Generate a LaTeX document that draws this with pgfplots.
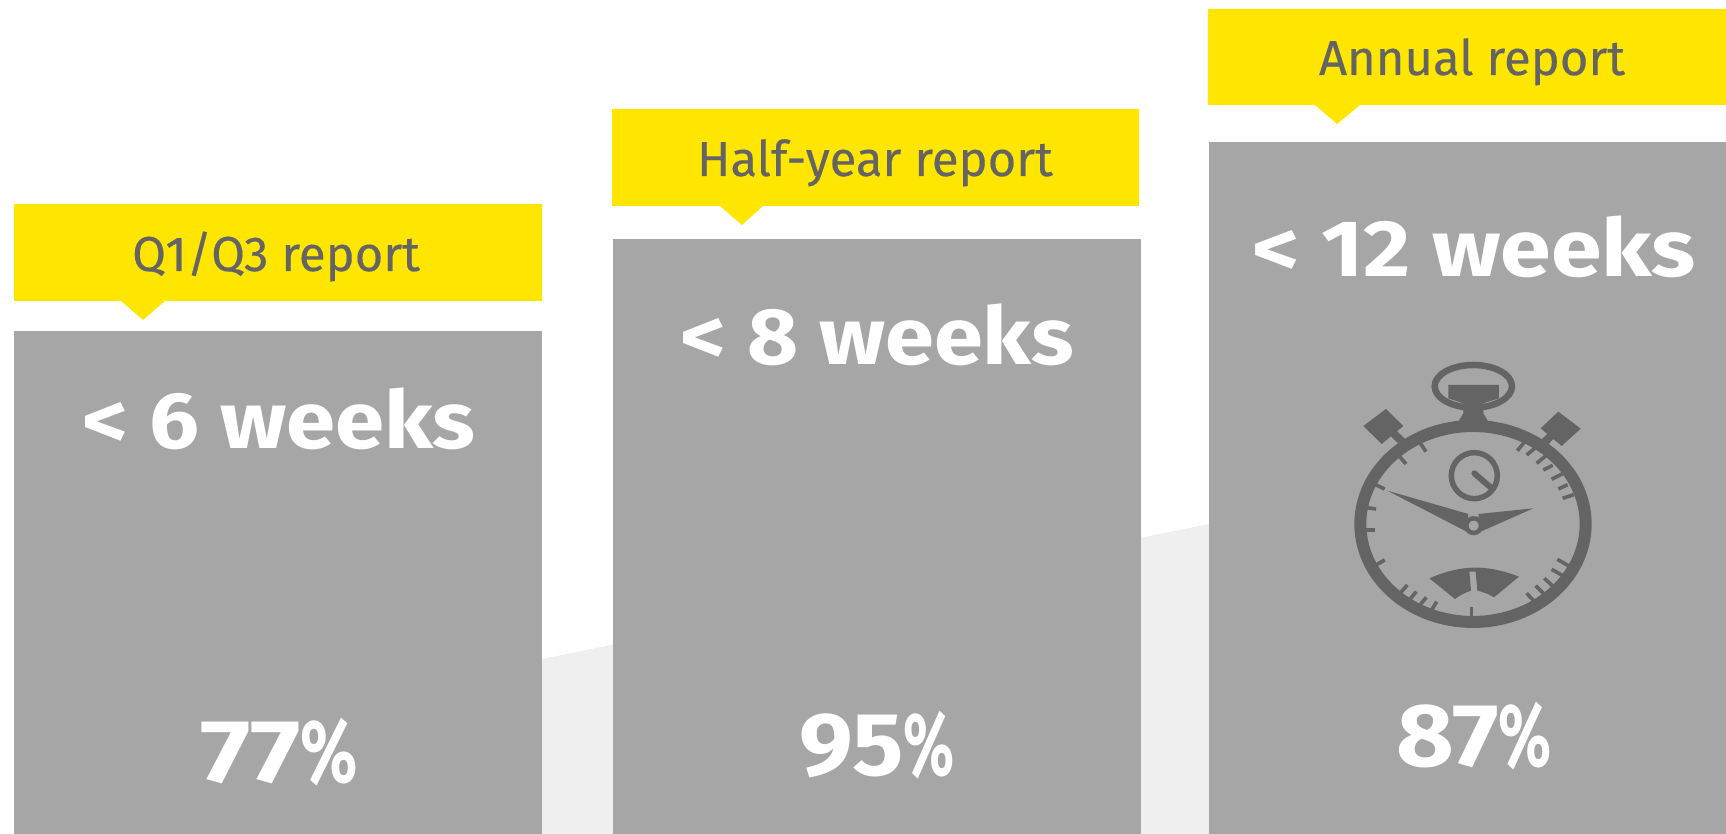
\documentclass[border=0pt]{standalone}
\usepackage{graphicx}
\usepackage{fontspec}
\setmainfont{Open Sans}
\newfontfamily\tagfont[FakeBold=0.3]{Fira Sans}
\newfontfamily\bigfont{Fira Sans}
\usepackage{pgfplots}
\pgfplotsset{compat=1.18}
\definecolor{eyyellow}{HTML}{FFE600}
\definecolor{eybar}{HTML}{A6A6A6}
\definecolor{eydark}{HTML}{646464}
\definecolor{eyback}{HTML}{EFEFEF}
\newcommand{\pct}{\scalebox{0.62}[1]{\%}}
\newcommand{\tagtext}[3]{\node[anchor=base,text=eydark,font=\fontsize{49}{49}\selectfont\tagfont,inner sep=0pt] at (axis cs:#1,#2) {#3};}
\newcommand{\bigtext}[4]{\node[anchor=base,text=white,font=\fontsize{86}{86}\selectfont\bigfont\bfseries,inner sep=0pt] at (axis cs:#1,#2) {\resizebox{#3}{0.93\height}{#4}};}
\newcommand{\pcttext}[4]{\node[anchor=base,text=white,font=\fontsize{86}{86}\selectfont\bigfont\bfseries,inner sep=0pt] at (axis cs:#1,#2) {\resizebox{#3}{1.04\height}{#4}};}
\begin{document}
\begin{tikzpicture}
  \begin{axis}[
    x=1pt,y=1pt,
    xmin=0,xmax=1726,ymin=0,ymax=834,
    scale only axis,hide axis,clip=true]
    % rising band behind the bars
    \addplot[fill=eyback,draw=none] coordinates {(542,175) (1209,310) (1209,0) (542,0)} -- cycle;
    % bars
    \addplot[fill=eybar,draw=none] coordinates {(14,0) (14,503) (542,503) (542,0)} -- cycle;
    \addplot[fill=eybar,draw=none] coordinates {(613,0) (613,595) (1141,595) (1141,0)} -- cycle;
    \addplot[fill=eybar,draw=none] coordinates {(1209,0) (1209,692) (1726,692) (1726,0)} -- cycle;
    % callouts
    \addplot[fill=eyyellow,draw=none] coordinates {(14,630) (14,533) (121,533) (143,514) (165,533) (542,533) (542,630)} -- cycle;
    \addplot[fill=eyyellow,draw=none] coordinates {(612,725) (612,628) (720,628) (742,609) (763,628) (1139,628) (1139,725)} -- cycle;
    \addplot[fill=eyyellow,draw=none] coordinates {(1208,825) (1208,729) (1315,729) (1337,710) (1360,729) (1726,729) (1726,825)} -- cycle;
    \tagtext{276}{563}{Q1/Q3 report}
    \tagtext{875}{658}{Half-year report}
    \tagtext{1472}{759}{Annual report}
    \bigtext{279}{385}{393pt}{< 6 weeks}
    \bigtext{877}{469}{393pt}{< 8 weeks}
    \bigtext{1474}{557}{444pt}{< 12 weeks}
    \pcttext{279}{51}{158pt}{77\pct}
    \pcttext{877}{58}{156pt}{95\pct}
    \pcttext{1474}{67}{156pt}{87\pct}
    \path (axis cs:0,0) rectangle (axis cs:1726,834);
  \end{axis}
  % stopwatch icon
  \begin{scope}[x=0.3333pt,y=-0.3333pt,shift={(1300pt,494pt)},eydark]
    \draw[line width=6.5pt] (520,139) ellipse [x radius=116,y radius=64];
    \fill (445,135) -- (597,135) -- (597,175) -- (550,190) -- (550,220) -- (568,250) -- (472,250) -- (490,220) -- (490,190) -- (445,175) -- cycle;
    \fill (258,207) -- (310,258) -- (245,312) -- (190,258) -- cycle;
    \fill (775,215) -- (842,266) -- (785,318) -- (722,265) -- cycle;
    \draw[line width=8pt] (270,270) -- (318,316);
    \draw[line width=8pt] (770,270) -- (725,316);
    \draw[line width=12pt] (519,552) ellipse [x radius=338,y radius=294];
    \draw[line width=5.5pt] (523,407) circle [radius=69];
    \draw[line width=6pt,line cap=round] (523,400) -- (575,445);
    \fill (262,452) -- (505,522) -- (500,575) -- cycle;
    \fill (700,505) -- (535,522) -- (542,575) -- cycle;
    \filldraw[fill=eybar,line width=4.5pt] (521,557) circle [radius=22];
    \fill (388,715) to[bend left=22] (657,710) -- (582,772) to[bend right=8] (532,752) -- (527,695) -- (508,695) -- (513,752) to[bend right=8] (465,777) -- cycle;
    \foreach \a/\b/\c/\d in {358/305/378/335,295/345/318/372,222/432/254/447,200/503/228/507,195/570/225/570,225/677/254/660,300/760/322/735,328/780/349/755,360/795/379/772,395/810/410/785,515/832/515/802,680/760/703/784,707/737/731/761,733/715/758/738,755/688/788/707,772/658/805/677,788/475/821/464,775/447/803/434,755/418/788/401,730/390/758/376,710/370/738/347,680/345/708/322,652/332/673/307}
      \draw[line width=3.6pt] (\a,\b) -- (\c,\d);
  \end{scope}
\end{tikzpicture}
\end{document}
